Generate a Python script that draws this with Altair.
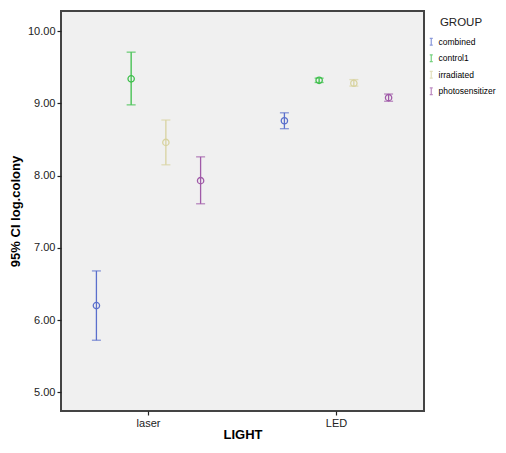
import altair as alt
import pandas as pd

light = ["laser"] * 4 + ["LED"] * 4
group = ["combined", "control1", "irradiated", "photosensitizer"] * 2
mean = [6.20, 9.34, 8.46, 7.93, 8.76, 9.32, 9.28, 9.08]
lower = [5.72, 8.98, 8.15, 7.61, 8.65, 9.29, 9.24, 9.03]
upper = [6.68, 9.71, 8.77, 8.26, 8.87, 9.35, 9.33, 9.13]

group_order = ["combined", "control1", "irradiated", "photosensitizer"]
group_colors = ["#5a6fcc", "#3cbf4a", "#d8d3a0", "#a05aa8"]

df = pd.DataFrame({"LIGHT": light, "GROUP": group, "mean": mean,
                   "lower": lower, "upper": upper})

xenc = alt.X("LIGHT:N", sort=["laser", "LED"],
             scale=alt.Scale(paddingInner=0.069, paddingOuter=0),
             axis=alt.Axis(title="LIGHT", labelAngle=0))
xoff = alt.XOffset("GROUP:N", sort=group_order,
                   scale=alt.Scale(paddingInner=0, paddingOuter=0.52))
yscale = alt.Scale(domain=[4.74, 10.28], nice=False, zero=False)
color = alt.Color("GROUP:N", sort=group_order,
                  scale=alt.Scale(domain=group_order, range=group_colors),
                  legend=alt.Legend(
                      title="GROUP", orient="none", legendX=366, legendY=6,
                      symbolType="M-0.45,-1H0.45M0,-1V1M-0.45,1H0.45",
                      symbolSize=45, symbolStrokeWidth=1.2,
                      symbolFillColor="transparent",
                      titleAnchor="middle", titleFontSize=11.5,
                      titleFontWeight="normal", titleColor="#222",
                      titlePadding=9, labelFontSize=8.5, labelColor="#000",
                      rowPadding=3.5, labelOffset=3))

base = alt.Chart(df)

rules = base.mark_rule(strokeWidth=1.3).encode(
    x=xenc, xOffset=xoff,
    y=alt.Y("lower:Q", scale=yscale,
            axis=alt.Axis(title="95% CI log.colony", format=".2f",
                          values=[5, 6, 7, 8, 9, 10])),
    y2="upper:Q", color=color)

caps_lo = base.mark_tick(size=9, thickness=1.3).encode(
    x=xenc, xOffset=xoff, y=alt.Y("lower:Q", scale=yscale), color=color)
caps_hi = base.mark_tick(size=9, thickness=1.3).encode(
    x=xenc, xOffset=xoff, y=alt.Y("upper:Q", scale=yscale), color=color)

points = base.mark_point(shape="circle", filled=False, size=40,
                         strokeWidth=1.3, opacity=1).encode(
    x=xenc, xOffset=xoff, y=alt.Y("mean:Q", scale=yscale), color=color)

chart = alt.layer(rules, caps_lo, caps_hi, points).properties(
    width=363, height=400,
    autosize=alt.AutoSizeParams(type="none"),
    padding={"left": 53, "top": 3, "right": 74, "bottom": 34},
    background="white",
).configure_view(
    fill="#f0f0f0", stroke="#444444", strokeWidth=2
).configure_axis(
    domain=False, grid=False, tickColor="#222", tickSize=4, tickWidth=1.2,
    labelFont="Liberation Sans", labelFontSize=11, labelColor="#222",
    titleFont="Liberation Sans", titleColor="#000", titleFontWeight="bold",
).configure_axisY(
    titleFontSize=13, titlePadding=5, labelPadding=2
).configure_axisX(
    titleFontSize=13, titlePadding=0, labelPadding=2
).configure_legend(
    labelFont="Liberation Sans", titleFont="Liberation Sans"
)

chart.save("out.html", embed_options={"renderer": "svg", "actions": False})
